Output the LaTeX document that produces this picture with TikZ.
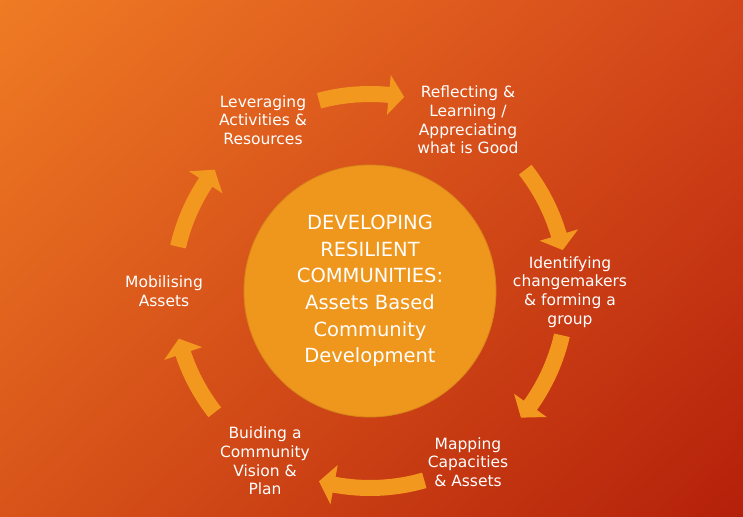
\documentclass[tikz,border=0pt]{standalone}
\usepackage{fontspec}
\setmainfont{DejaVu Sans}
\usetikzlibrary{shadings}
\definecolor{bgtl}{HTML}{EF7B24}
\definecolor{bgtr}{HTML}{D4461A}
\definecolor{bgbl}{HTML}{D8541A}
\definecolor{bgbr}{HTML}{B4200A}
\definecolor{hubfill}{HTML}{EF961C}
\definecolor{hubedge}{HTML}{D8861A}
\definecolor{arrowor}{HTML}{F3981F}
\begin{document}
\begin{tikzpicture}[x=1pt,y=1pt,
  stage/.style={text=white,align=center,font=\fontsize{15.5}{18.7}\selectfont},
  hub/.style={circle,fill=hubfill,draw=hubedge,line width=0.8pt,minimum size=252pt,inner sep=0pt,
    text=white,align=center,font=\fontsize{19.5}{26.7}\selectfont},
  ringarrow/.style={fill=arrowor}]
\useasboundingbox (-370,-225) rectangle (373,291);
\shade[upper left=bgtl,upper right=bgtr,lower left=bgbl,lower right=bgbr] (-370,-225) rectangle (373,291);
% centre
\node[hub] (hub) at (0,0) {DEVELOPING\\RESILIENT\\COMMUNITIES:\\Assets Based\\Community\\Development};
% stages round the cycle
\node[stage] (leverage) at (-107,171) {Leveraging\\Activities \&\\Resources};
\node[stage] (reflect) at (98,171) {Reflecting \&\\Learning /\\Appreciating\\what is Good};
\node[stage] (identify) at (200,-1) {Identifying\\changemakers\\\& forming a\\group};
\node[stage] (mapping) at (98,-171) {Mapping\\Capacities\\\& Assets};
\node[stage] (vision) at (-105,-170) {Buiding a\\Community\\Vision \&\\Plan};
\node[stage] (mobilise) at (-206,0) {Mobilising\\Assets};
% arrows between stages (tail angle / tip angle)
\foreach \from/\to in {105/80, 38/12, -13/-40, -74/-105, -142/-166, 167/142}
  \fill[ringarrow] (\from:189) arc[start angle=\from, end angle=\to+4.5, radius=189]
    -- (\to+4.5:177) -- (\to:197) -- (\to+4.5:217) -- (\to+4.5:205)
    arc[start angle=\to+4.5, end angle=\from, radius=205] -- cycle;
\end{tikzpicture}
\end{document}
